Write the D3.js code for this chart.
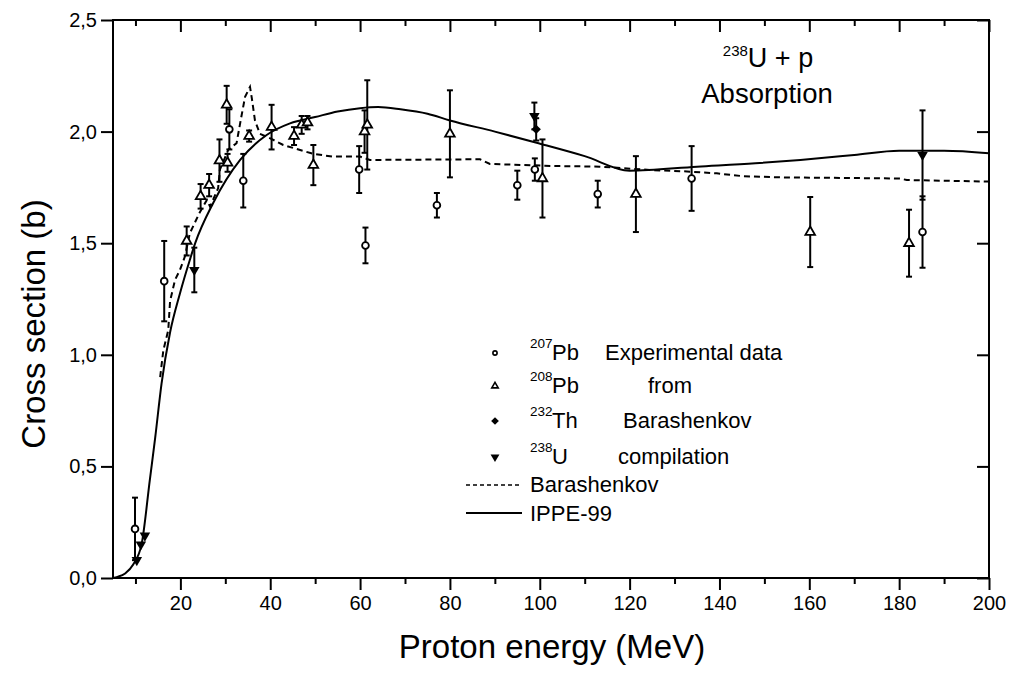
<!DOCTYPE html>
<html>
<head>
<meta charset="utf-8">
<script src="https://cdn.jsdelivr.net/npm/d3@7"></script>
<style>
body { margin: 0; background: #fff; }
text { font-family: "Liberation Sans", Arial, sans-serif; fill: #000; }
</style>
</head>
<body>
<svg id="chart"></svg>
<script>
// tick values
var xMajor = [20, 40, 60, 80, 100, 120, 140, 160, 180, 200];
var xMinor = [10, 30, 50, 70, 90, 110, 130, 150, 170, 190];
var yMajor = [0, 0.5, 1.0, 1.5, 2.0, 2.5];

// experimental points: [energy, sigma, error]
var pb207 = [
    [9.9, 0.22, 0.14], [16.4, 1.33, 0.18], [30.9, 2.01, 0.09], [34.0, 1.78, 0.12],
    [59.8, 1.83, 0.105], [61.2, 1.49, 0.08], [77.1, 1.67, 0.055], [95.0, 1.76, 0.065],
    [98.9, 1.83, 0.05], [112.9, 1.72, 0.06], [133.8, 1.79, 0.145], [185.2, 1.55, 0.16]
];
var pb208 = [
    [21.4, 1.51, 0.065], [24.5, 1.71, 0.055], [26.4, 1.76, 0.05], [28.7, 1.87, 0.095],
    [30.5, 1.86, 0.04], [30.3, 2.12, 0.085], [35.3, 1.98, 0.025], [40.3, 2.02, 0.1],
    [45.3, 1.98, 0.04], [47.0, 2.03, 0.04], [48.3, 2.04, 0.03], [49.6, 1.85, 0.09],
    [61.0, 2.00, 0.095], [61.6, 2.03, 0.2], [80.0, 1.99, 0.195], [100.6, 1.79, 0.175],
    [121.4, 1.72, 0.17], [160.2, 1.55, 0.157], [182.2, 1.50, 0.15]
];
var th232 = [
    [99.2, 2.01, 0.05]
];
var u238 = [
    [10.3, 0.08, 0], [11.2, 0.15, 0], [12.1, 0.19, 0], [23.1, 1.38, 0.1],
    [98.8, 2.07, 0.06], [185.2, 1.895, 0.2]
];

// calculated curves: [energy, sigma]
var barashenkov = [
    [15.5, 0.90], [16.2, 1.02], [17.3, 1.11], [17.7, 1.24], [18.8, 1.335], [19.9, 1.38],
    [21, 1.44], [22.1, 1.544], [24.2, 1.634], [25.9, 1.694], [26.6, 1.664], [28.4, 1.746],
    [28.8, 1.83], [30.7, 1.92], [32.5, 1.948], [33.6, 2.07], [34.4, 2.156], [35.5, 2.2],
    [35.9, 2.15], [36.6, 2.05], [37.7, 1.99], [40, 1.97], [42.9, 1.94], [49.6, 1.90],
    [54, 1.888], [60, 1.888], [62.2, 1.873], [86.7, 1.876], [88.9, 1.855], [103, 1.846],
    [113.4, 1.843], [124.5, 1.828], [132, 1.822], [139.4, 1.813], [145.3, 1.80],
    [153.5, 1.795], [180.2, 1.79], [181.7, 1.783], [200, 1.776]
];
var ippe99 = [
    [5, 0], [6, 0.005], [7.7, 0.02], [9.5, 0.06], [11.4, 0.155], [13.2, 0.44], [14.4, 0.63],
    [15.8, 0.87], [17.7, 1.10], [19.9, 1.275], [22.1, 1.425], [23.3, 1.50], [27.3, 1.68],
    [33.3, 1.873], [39.2, 1.985], [44.4, 2.037], [50, 2.065], [55, 2.09], [60, 2.105],
    [64, 2.11], [69, 2.10], [75, 2.08], [80, 2.05], [90, 2.0], [99.3, 1.95], [110, 1.89],
    [120, 1.825], [135, 1.843], [148, 1.858], [158, 1.873], [170, 1.895], [180, 1.914],
    [190, 1.914], [200, 1.903]
];

var width = 1014, height = 673;
var plotL = 113, plotR = 989, plotT = 20, plotB = 578;

var svg = d3.select("#chart")
    .attr("width", width)
    .attr("height", height);

var x = d3.scaleLinear().domain([5, 200]).range([plotL, plotR]);
var y = d3.scaleLinear().domain([0, 2.5]).range([plotB, plotT]);

var fmt = function(d) { return d.toFixed(1).replace(".", ","); };

// bottom axis
svg.append("g")
    .attr("transform", "translate(0," + plotB + ")")
    .call(d3.axisBottom(x).tickValues(xMajor).tickSize(12).tickPadding(6).tickFormat(d3.format("d")));
svg.append("g")
    .attr("transform", "translate(0," + plotB + ")")
    .call(d3.axisBottom(x).tickValues(xMinor).tickSize(6).tickFormat(""));
// top axis, ticks inside
svg.append("g")
    .attr("transform", "translate(0," + plotT + ")")
    .call(d3.axisTop(x).tickValues(xMajor).tickSize(-12).tickFormat(""));
svg.append("g")
    .attr("transform", "translate(0," + plotT + ")")
    .call(d3.axisTop(x).tickValues(xMinor).tickSize(-6).tickFormat(""));
// left axis
svg.append("g")
    .attr("transform", "translate(" + plotL + ",0)")
    .call(d3.axisLeft(y).tickValues(yMajor).tickSize(12).tickPadding(4).tickFormat(fmt));
// right axis, ticks inside
svg.append("g")
    .attr("transform", "translate(" + plotR + ",0)")
    .call(d3.axisRight(y).tickValues(yMajor).tickSize(-12).tickFormat(""));

svg.selectAll(".domain").remove();
svg.selectAll(".tick line").attr("stroke", "#000").attr("stroke-width", 2);
svg.selectAll(".tick text").style("font-size", "20px").style("font-family", "'Liberation Sans', Arial, sans-serif");

svg.append("rect")
    .attr("x", plotL).attr("y", plotT)
    .attr("width", plotR - plotL).attr("height", plotB - plotT)
    .attr("fill", "none").attr("stroke", "#000").attr("stroke-width", 2);

// axis titles
svg.append("text")
    .attr("x", 552)
    .attr("y", 658)
    .attr("text-anchor", "middle")
    .style("font-size", "33px")
    .text("Proton energy (MeV)");

svg.append("text")
    .attr("transform", "translate(45,324) rotate(-90)")
    .attr("text-anchor", "middle")
    .style("font-size", "33px")
    .text("Cross section (b)");

// curves
var line = d3.line()
    .x(function(d) { return x(d[0]); })
    .y(function(d) { return y(d[1]); });

svg.append("path")
    .datum(barashenkov)
    .attr("d", line)
    .attr("fill", "none")
    .attr("stroke", "#000")
    .attr("stroke-width", 2)
    .attr("stroke-dasharray", "6,4");

svg.append("path")
    .datum(ippe99)
    .attr("d", line.curve(d3.curveMonotoneX))
    .attr("fill", "none")
    .attr("stroke", "#000")
    .attr("stroke-width", 2);

// error bars
function errorBars(data) {
    var g = svg.append("g").attr("stroke", "#000").attr("stroke-width", 2);
    var withErr = data.filter(function(d) { return d[2] > 0; });
    g.selectAll(".bar")
        .data(withErr)
        .enter().append("line")
        .attr("x1", function(d) { return x(d[0]); })
        .attr("x2", function(d) { return x(d[0]); })
        .attr("y1", function(d) { return y(d[1] - d[2]); })
        .attr("y2", function(d) { return y(d[1] + d[2]); });
    g.selectAll(".capTop")
        .data(withErr)
        .enter().append("line")
        .attr("x1", function(d) { return x(d[0]) - 3; })
        .attr("x2", function(d) { return x(d[0]) + 3; })
        .attr("y1", function(d) { return y(d[1] + d[2]); })
        .attr("y2", function(d) { return y(d[1] + d[2]); });
    g.selectAll(".capBot")
        .data(withErr)
        .enter().append("line")
        .attr("x1", function(d) { return x(d[0]) - 3; })
        .attr("x2", function(d) { return x(d[0]) + 3; })
        .attr("y1", function(d) { return y(d[1] - d[2]); })
        .attr("y2", function(d) { return y(d[1] - d[2]); });
}

errorBars(pb207);
errorBars(pb208);
errorBars(th232);
errorBars(u238);

var circle = d3.symbol().type(d3.symbolCircle).size(36);
var tri = d3.symbol().type(d3.symbolTriangle).size(40);
var sq = d3.symbol().type(d3.symbolSquare).size(44);
var triDown = d3.symbol().type(d3.symbolTriangle).size(48);

function place(rot) {
    return function(d) { return "translate(" + x(d[0]) + "," + y(d[1]) + ") rotate(" + rot + ")"; };
}

svg.selectAll(".pb207")
    .data(pb207)
    .enter().append("path")
    .attr("d", circle)
    .attr("transform", place(0))
    .attr("fill", "#fff").attr("stroke", "#000").attr("stroke-width", 1.8);

svg.selectAll(".pb208")
    .data(pb208)
    .enter().append("path")
    .attr("d", tri)
    .attr("transform", place(0))
    .attr("fill", "#fff").attr("stroke", "#000").attr("stroke-width", 1.8);

svg.selectAll(".th232")
    .data(th232)
    .enter().append("path")
    .attr("d", sq)
    .attr("transform", place(45))
    .attr("fill", "#000");

svg.selectAll(".u238")
    .data(u238)
    .enter().append("path")
    .attr("d", triDown)
    .attr("transform", place(180))
    .attr("fill", "#000");

// annotation
var ann = svg.append("text")
    .attr("x", 768).attr("y", 67)
    .attr("text-anchor", "middle")
    .style("font-size", "27px");
ann.append("tspan").attr("dy", "-11").style("font-size", "15px").text("238");
ann.append("tspan").attr("dy", "11").text("U + p");
svg.append("text")
    .attr("x", 767).attr("y", 103)
    .attr("text-anchor", "middle")
    .style("font-size", "27.5px")
    .text("Absorption");

// legend
var legRows = [
    {type: d3.symbolCircle, size: 14, rot: 0, fill: "#fff", sup: "207", el: "Pb", txt: "Experimental data", tx: 605, y: 360},
    {type: d3.symbolTriangle, size: 18, rot: 0, fill: "#fff", sup: "208", el: "Pb", txt: "from", tx: 648, y: 393},
    {type: d3.symbolSquare, size: 30, rot: 45, fill: "#000", sup: "232", el: "Th", txt: "Barashenkov", tx: 623, y: 428},
    {type: d3.symbolTriangle, size: 34, rot: 180, fill: "#000", sup: "238", el: "U", txt: "compilation", tx: 618, y: 464}
];
legRows.forEach(function(r) {
    svg.append("path")
        .attr("d", d3.symbol().type(r.type).size(r.size))
        .attr("transform", "translate(495," + (r.y - 7) + ") rotate(" + r.rot + ")")
        .attr("fill", r.fill).attr("stroke", "#000").attr("stroke-width", r.fill === "#fff" ? 1.6 : 0);
    svg.append("text").attr("x", 530).attr("y", r.y - 12).style("font-size", "13.5px").text(r.sup);
    svg.append("text").attr("x", 552).attr("y", r.y).style("font-size", "22px").text(r.el);
    svg.append("text").attr("x", r.tx).attr("y", r.y).style("font-size", "22px").text(r.txt);
});
svg.append("line").attr("x1", 466).attr("x2", 522).attr("y1", 485).attr("y2", 485)
    .attr("stroke", "#000").attr("stroke-width", 1.6).attr("stroke-dasharray", "4,3");
svg.append("text").attr("x", 530).attr("y", 492).style("font-size", "22px").text("Barashenkov");
svg.append("line").attr("x1", 466).attr("x2", 522).attr("y1", 513).attr("y2", 513)
    .attr("stroke", "#000").attr("stroke-width", 2);
svg.append("text").attr("x", 530).attr("y", 521).style("font-size", "22px").text("IPPE-99");
</script>
</body>
</html>
